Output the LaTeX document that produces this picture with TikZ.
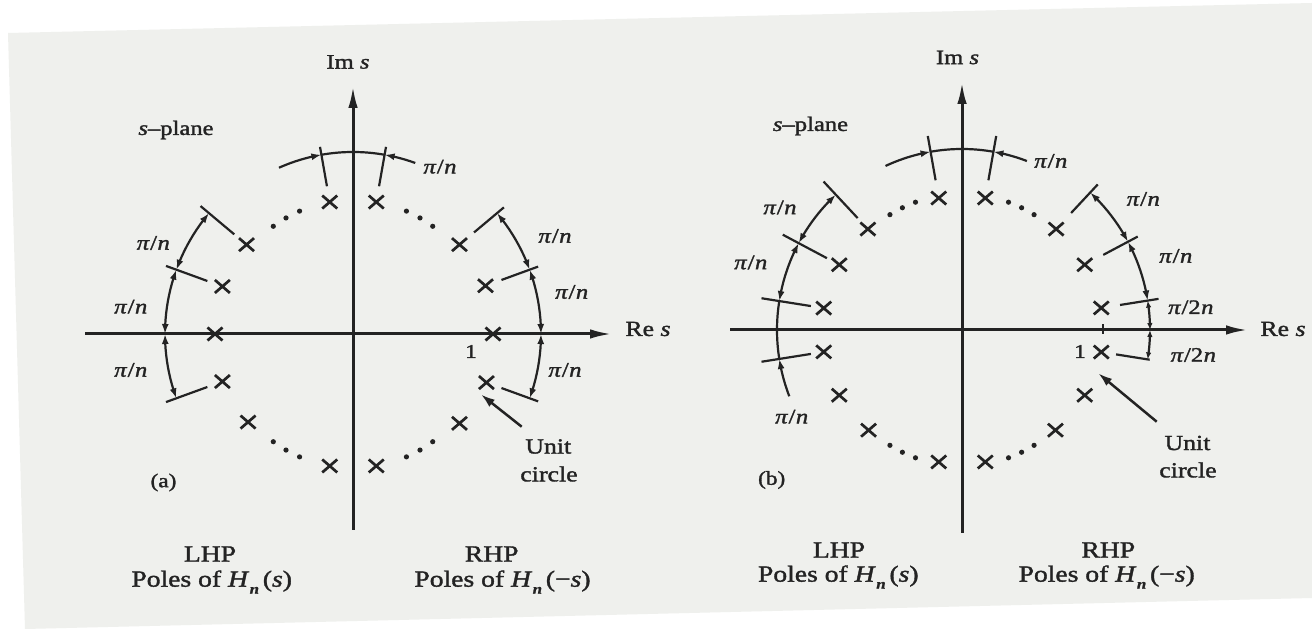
\documentclass[tikz,border=0pt]{standalone}
\usepackage{fontspec}
\setmainfont{Liberation Serif}[FakeStretch=1.2,FakeBold=1.6]
\usetikzlibrary{arrows.meta,bending,shapes.misc}
\definecolor{ink}{RGB}{35,35,35}
\definecolor{page}{RGB}{239,240,237}
\newcommand{\Hn}{\textit{H}\kern0.5pt\raisebox{-0.3em}{\fontsize{14}{14}\selectfont\textbf{\textit{n}}}}
\newcommand{\pin}{\textit{π}\kern0.5pt/\kern0.5pt\textit{n}}
\newcommand{\pitn}{\textit{π}\kern0.5pt/2\kern0.5pt\textit{n}}
\begin{document}
\begin{tikzpicture}[x=1pt,y=1pt,
 txt/.style={text=ink,inner sep=0pt,font=\fontsize{21.5}{24}\selectfont},
 lab/.style={text=ink,inner sep=0pt,font=\fontsize{20.5}{23}\selectfont},
 smalltxt/.style={text=ink,inner sep=0pt,font=\fontsize{19.5}{22}\selectfont},
 bigtxt/.style={text=ink,inner sep=0pt,font=\fontsize{23}{26}\selectfont},
 axisl/.style={draw=ink,line width=3pt,-{Latex[length=22pt,width=9.5pt]}},
 arcl/.style={draw=ink,line width=2.2pt},
 dimb/.style={arcl,{Latex[length=10pt,width=7pt]}-{Latex[length=10pt,width=7pt]}},
 dims/.style={arcl,{Latex[length=7pt,width=5.5pt]}-{Latex[length=7pt,width=5.5pt]}},
 arrin/.style={arcl,-{Latex[length=10pt,width=7pt]}},
 tk/.style={draw=ink,line width=2.2pt},
 pole/.style={cross out,draw=ink,line width=2.7pt,minimum width=15pt,minimum height=13pt,inner sep=0pt,outer sep=0pt},
 ptr/.style={draw=ink,line width=2.5pt,-{Latex[length=14pt,width=9pt]}}
]
% background page
\path[use as bounding box] (0,0) rectangle (1312,629);
\fill[white] (0,0) rectangle (1312,629);
\fill[page] (8,596) -- (1312,626) -- (1312,31) -- (25,0) -- cycle;

% ================= panel (a) =================
\begin{scope}[shift={(353,295)}]
 \coordinate (aB) at (0,-196);
 \coordinate (aT) at (0,248);
 \coordinate (aL) at (-268,0);
 \coordinate (aR) at (259,0);
 \draw[axisl] (aB) -- (aT);
 \draw[axisl] (aL) -- (aR);
 % poles
 \foreach \a/\r in {0/140,20/141,40/139,80/134,100/134,140/139,160/139,180/138,200/139,220/137,260/134,280/134,320/139,340/142}
   \node[pole] (pA\a) at (\a:\r) {};
 % dots
 \foreach \c in {60,120,240,300}
   \foreach \d in {-6.5,0,6.5}
     \fill[ink] ({\c+\d}:134) circle (2.6);
 % ticks
 \foreach \a in {80,100} \draw[tk] (\a:150) -- (\a:190);
 \foreach \a in {40,20,-20} \draw[tk] (\a:158) -- (\a:197);
 \foreach \a in {140,160,200} \draw[tk] (\a:155) -- (\a:199);
 % top arc
 \draw[arrin] (114:182) arc[start angle=114,end angle=100,radius=182];
 \draw[arcl] (100:182) arc[start angle=100,end angle=80,radius=182];
 \draw[arrin] (70:182) arc[start angle=70,end angle=80,radius=182];
 % right arc
 \draw[dimb] (40:188) arc[start angle=40,end angle=20,radius=188];
 \draw[dimb] (20:188) arc[start angle=20,end angle=0,radius=188];
 \draw[dimb] (0:188) arc[start angle=0,end angle=-20,radius=188];
 % left arc
 \draw[dimb] (140:188) arc[start angle=140,end angle=160,radius=188];
 \draw[dimb] (160:188) arc[start angle=160,end angle=180,radius=188];
 \draw[dimb] (180:188) arc[start angle=180,end angle=200,radius=188];
 % unit circle pointer
 \coordinate (ucA) at (128,-60.5);
 \coordinate (usA) at (168.7,-92.7);
 \draw[ptr] (usA) -- (ucA);
\end{scope}

\node[lab] (imA) at (348,567) {Im \textit{s}};
\node[txt] (reA) at (648,300) {Re \textit{s}};
\node[lab] (spA) at (176,499) {\textit{s}–plane};
\node[smalltxt] (labA) at (163.5,146.5) {(a)};
\node[smalltxt] (oneA) at (471,277.5) {1};
\node[txt] (unitA) at (548.3,182.5) {Unit};
\node[txt] (circA) at (549,155) {circle};
\node[bigtxt] (lhpA) at (210,75) {LHP};
\node[bigtxt] (plA) at (211.7,47) {Poles of \Hn\,(\textit{s})};
\node[bigtxt] (rhpA) at (491.7,75) {RHP};
\node[bigtxt] (prA) at (502.5,47) {Poles of \Hn\,(−\textit{s})};
\node[lab] (tA) at (440,462.3) {\pin};
\node[lab] (rA1) at (555,393) {\pin};
\node[lab] (rA2) at (571.7,337) {\pin};
\node[lab] (rA3) at (565,259) {\pin};
\node[lab] (lA1) at (153.3,386) {\pin};
\node[lab] (lA2) at (130.8,322.3) {\pin};
\node[lab] (lA3) at (130.8,259) {\pin};

% ================= panel (b) =================
\begin{scope}[shift={(962,299)}]
 \coordinate (bB) at (0,-203);
 \coordinate (bT) at (0,248);
 \coordinate (bL) at (-232,0);
 \coordinate (bR) at (286,0);
 \draw[axisl] (bB) -- (bT);
 \draw[axisl] (bL) -- (bR);
 % tick at 1
 \coordinate (t1a) at (140.7,-4);
 \coordinate (t1b) at (140.7,6);
 \draw[tk] (t1a) -- (t1b);
 % poles
 \foreach \a/\r in {9/141,28/139,47/138,80/134,100/134,133/138,152/139,171/140,189/140,208/139,227/137,260/134,280/134,313/137,332/139,351/141}
   \node[pole] (pB\a) at (\a:\r) {};
 % dots
 \foreach \c in {64,116,244,296}
   \foreach \d in {-6,0,6}
     \fill[ink] ({\c+\d}:136) circle (2.6);
 % ticks
 \foreach \a in {80,100} \draw[tk] (\a:152) -- (\a:197);
 \foreach \a in {47,28,9} \draw[tk] (\a:160) -- (\a:199);
 \draw[tk] (-9:156) -- (-9:190);
 \foreach \a in {133,152,171,189} \draw[tk] (\a:153) -- (\a:203);
 % top arc
 \draw[arrin] (115:181) arc[start angle=115,end angle=100,radius=181];
 \draw[arcl] (100:181) arc[start angle=100,end angle=80,radius=181];
 \draw[arrin] (69:181) arc[start angle=69,end angle=80,radius=181];
 % right arc
 \draw[dimb] (47:188) arc[start angle=47,end angle=28,radius=188];
 \draw[dimb] (28:188) arc[start angle=28,end angle=9,radius=188];
 \draw[dims] (9:188) arc[start angle=9,end angle=0,radius=188];
 \draw[dims] (0:188) arc[start angle=0,end angle=-9,radius=188];
 % left arc
 \draw[dimb] (133:185) arc[start angle=133,end angle=152,radius=185];
 \draw[dimb] (152:185) arc[start angle=152,end angle=171,radius=185];
 \draw[arcl] (171:185) arc[start angle=171,end angle=189,radius=185];
 \draw[arrin] (201:185) arc[start angle=201,end angle=189,radius=185];
 % unit circle pointer
 \coordinate (ucB) at (136.3,-43.3);
 \coordinate (usB) at (194.7,-91.7);
 \draw[ptr] (usB) -- (ucB);
\end{scope}

\node[lab] (imB) at (957.5,571.5) {Im \textit{s}};
\node[txt] (reB) at (1283,300) {Re \textit{s}};
\node[lab] (spB) at (810.5,503) {\textit{s}–plane};
\node[smalltxt] (labB) at (771.7,149) {(b)};
\node[smalltxt] (oneB) at (1080,277.5) {1};
\node[txt] (unitB) at (1187.5,186) {Unit};
\node[txt] (circB) at (1188,159) {circle};
\node[bigtxt] (lhpB) at (839,79) {LHP};
\node[bigtxt] (plB) at (838.3,52) {Poles of \Hn\,(\textit{s})};
\node[bigtxt] (rhpB) at (1108.3,79) {RHP};
\node[bigtxt] (prB) at (1106.7,52) {Poles of \Hn\,(−\textit{s})};
\node[lab] (tB) at (1050.8,468) {\pin};
\node[lab] (rB1) at (1143.3,430) {\pin};
\node[lab] (rB2) at (1175.8,373) {\pin};
\node[lab] (rB3) at (1190.8,321.7) {\pitn};
\node[lab] (rB4) at (1193.3,274) {\pitn};
\node[lab] (lB1) at (780,421.5) {\pin};
\node[lab] (lB2) at (750.8,366.5) {\pin};
\node[lab] (lB3) at (791.7,212.3) {\pin};
\end{tikzpicture}
\end{document}
